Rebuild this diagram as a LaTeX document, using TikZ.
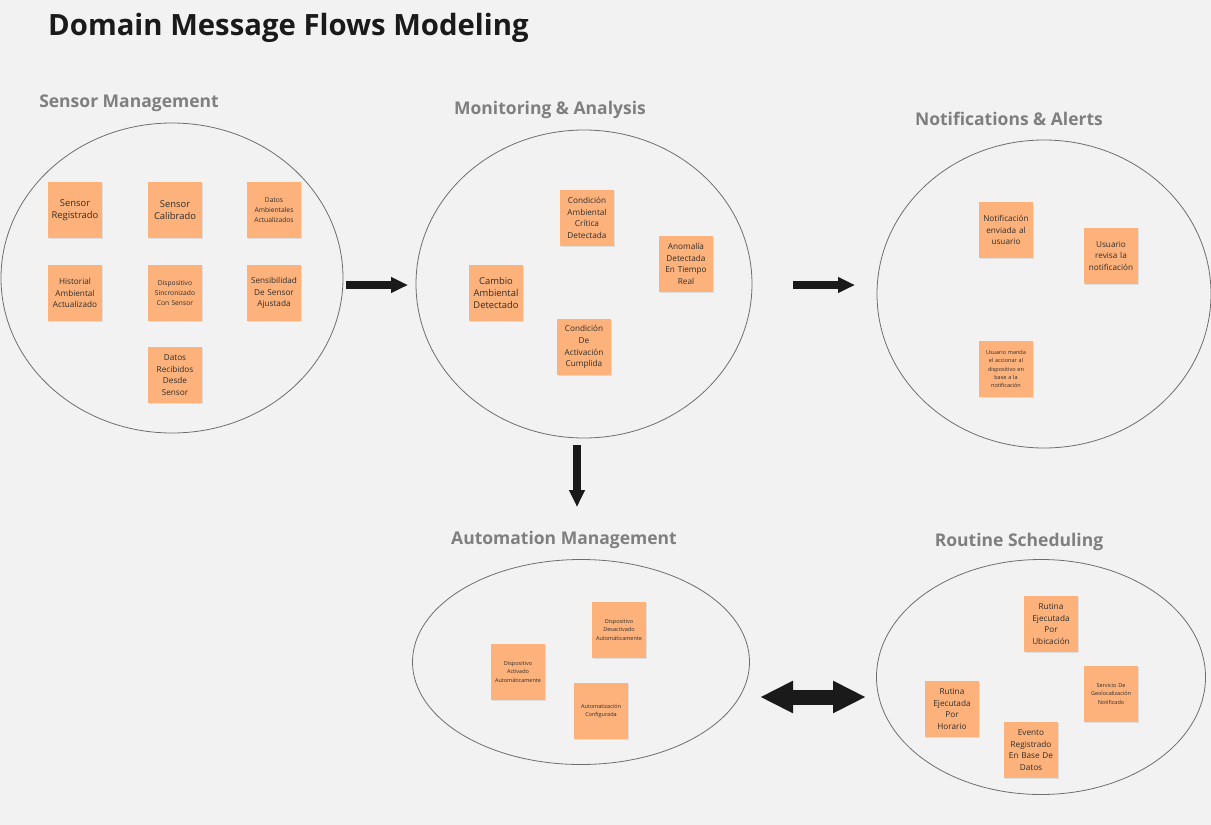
\documentclass[tikz,border=0pt]{standalone}
\usepackage{fontspec}
\setmainfont{Open Sans}
\usepackage{tikz}
\usetikzlibrary{arrows.meta}
\usetikzlibrary{shapes.geometric}
\usetikzlibrary{shadows}
\definecolor{paper}{HTML}{F2F2F2}
\definecolor{stickyfill}{HTML}{FDB27B}
\definecolor{stickytext}{HTML}{2E2E2E}
\definecolor{rimgray}{HTML}{6E6E6E}
\definecolor{labelgray}{HTML}{7F7F7F}
\definecolor{arrowblack}{HTML}{1A1A1A}

\begin{document}
\begin{tikzpicture}[x=1pt,y=-1pt]
    \tikzset{bubble/.style = {shape=ellipse,draw=rimgray,line width=0.8pt,inner sep=0pt}}
    \tikzset{bubblelabel/.style = {anchor=base,inner sep=0pt,text=labelgray,font=\fontsize{17.5}{21}\selectfont\bfseries}}
    \tikzset{sticky/.style = {shape=rectangle,fill=stickyfill,minimum width=54pt,minimum height=56pt,inner sep=1pt,text width=52pt,align=center,text=stickytext,
        drop shadow={shadow xshift=0.6pt,shadow yshift=-1.2pt,opacity=0.18}}}
    \tikzset{stickyA/.style = {sticky,font=\fontsize{9.4}{12.3}\selectfont}}
    \tikzset{stickyB/.style = {sticky,font=\fontsize{8.2}{11.7}\selectfont}}
    \tikzset{stickyC/.style = {sticky,font=\fontsize{6.7}{10}\selectfont}}
    \tikzset{stickyD/.style = {sticky,font=\fontsize{5.5}{8.2}\selectfont}}
    \tikzset{flow/.style = {draw=arrowblack,line width=8pt,-{Triangle[length=17pt,width=15pt]}}}
    \tikzset{flowboth/.style = {draw=arrowblack,line width=15pt,{Triangle[length=33pt,width=30pt]}-{Triangle[length=33pt,width=30pt]}}}

    \fill[paper] (0,0) rectangle (1211,825);
    \useasboundingbox (0,0) rectangle (1211,825);

    % title
    \node[anchor=base west,inner sep=0pt,text=arrowblack,font=\fontsize{29.3}{35}\selectfont\bfseries] (title) at (48,35) {Domain Message Flows Modeling};

    % bounded contexts
    \node[bubble,minimum width=342pt,minimum height=310pt] (sensor) at (172,278) {};
    \node[bubble,minimum width=336pt,minimum height=308pt] (monitor) at (584,284) {};
    \node[bubble,minimum width=334pt,minimum height=308pt] (notify) at (1044,294) {};
    \node[bubble,minimum width=337pt,minimum height=205pt] (auto) at (581,662) {};
    \node[bubble,minimum width=329pt,minimum height=235pt] (routine) at (1041,677) {};

    \node[bubblelabel] (sensorlabel) at (129,107) {Sensor Management};
    \node[bubblelabel] (monitorlabel) at (550,114) {Monitoring \& Analysis};
    \node[bubblelabel] (notifylabel) at (1009,125) {Notifications \& Alerts};
    \node[bubblelabel] (autolabel) at (564,544) {Automation Management};
    \node[bubblelabel] (routinelabel) at (1019,546) {Routine Scheduling};

    % sensor management events
    \node[stickyA] (s1) at (75,210) {Sensor\\Registrado};
    \node[stickyA] (s2) at (175,210) {Sensor\\Calibrado};
    \node[stickyC] (s3) at (274,210) {Datos\\Ambientales\\Actualizados};
    \node[stickyB] (s4) at (75,293) {Historial\\Ambiental\\Actualizado};
    \node[stickyC] (s5) at (175,293) {Dispositivo\\Sincronizado\\Con Sensor};
    \node[stickyB] (s6) at (274,293) {Sensibilidad\\De Sensor\\Ajustada};
    \node[stickyB] (s7) at (175,375) {Datos\\Recibidos\\Desde\\Sensor};

    % monitoring events
    \node[stickyB] (m1) at (587,218) {Condición\\Ambiental\\Crítica\\Detectada};
    \node[stickyB] (m2) at (686,264) {Anomalía\\Detectada\\En Tiempo\\Real};
    \node[stickyA] (m3) at (496,293) {Cambio\\Ambiental\\Detectado};
    \node[stickyB] (m4) at (584,347) {Condición\\De\\Activación\\Cumplida};

    % notification events
    \node[stickyB] (n1) at (1006,230) {Notificación\\enviada al\\usuario};
    \node[stickyB] (n2) at (1111,256) {Usuario\\revisa la\\notificación};
    \node[stickyD] (n3) at (1006,369) {Usuario manda\\el accionar al\\dispositivo en\\base a la\\notificación};

    % automation events
    \node[stickyD] (a1) at (619,630) {Dispositivo\\Desactivado\\Automáticamente};
    \node[stickyD] (a2) at (518,672) {Dispositivo\\Activado\\Automáticamente};
    \node[stickyD] (a3) at (601,711) {Automatización\\Configurada};

    % routine events
    \node[stickyB] (r1) at (1051,624) {Rutina\\Ejecutada\\Por\\Ubicación};
    \node[stickyD] (r2) at (1111,694) {Servicio De\\Geolocalización\\Notificado};
    \node[stickyB] (r3) at (952,709) {Rutina\\Ejecutada\\Por\\Horario};
    \node[stickyB] (r4) at (1031,750) {Evento\\Registrado\\En Base De\\Datos};

    % flows
    \coordinate (f1a) at (346,285);
    \coordinate (f1b) at (408,285);
    \coordinate (f2a) at (793,285);
    \coordinate (f2b) at (855,285);
    \coordinate (f3a) at (577,445);
    \coordinate (f3b) at (577,507);
    \coordinate (f4a) at (760,697);
    \coordinate (f4b) at (866,697);
    \draw[flow] (f1a) to (f1b);
    \draw[flow] (f2a) to (f2b);
    \draw[flow] (f3a) to (f3b);
    \draw[flowboth] (f4a) to (f4b);
\end{tikzpicture}
\end{document}
